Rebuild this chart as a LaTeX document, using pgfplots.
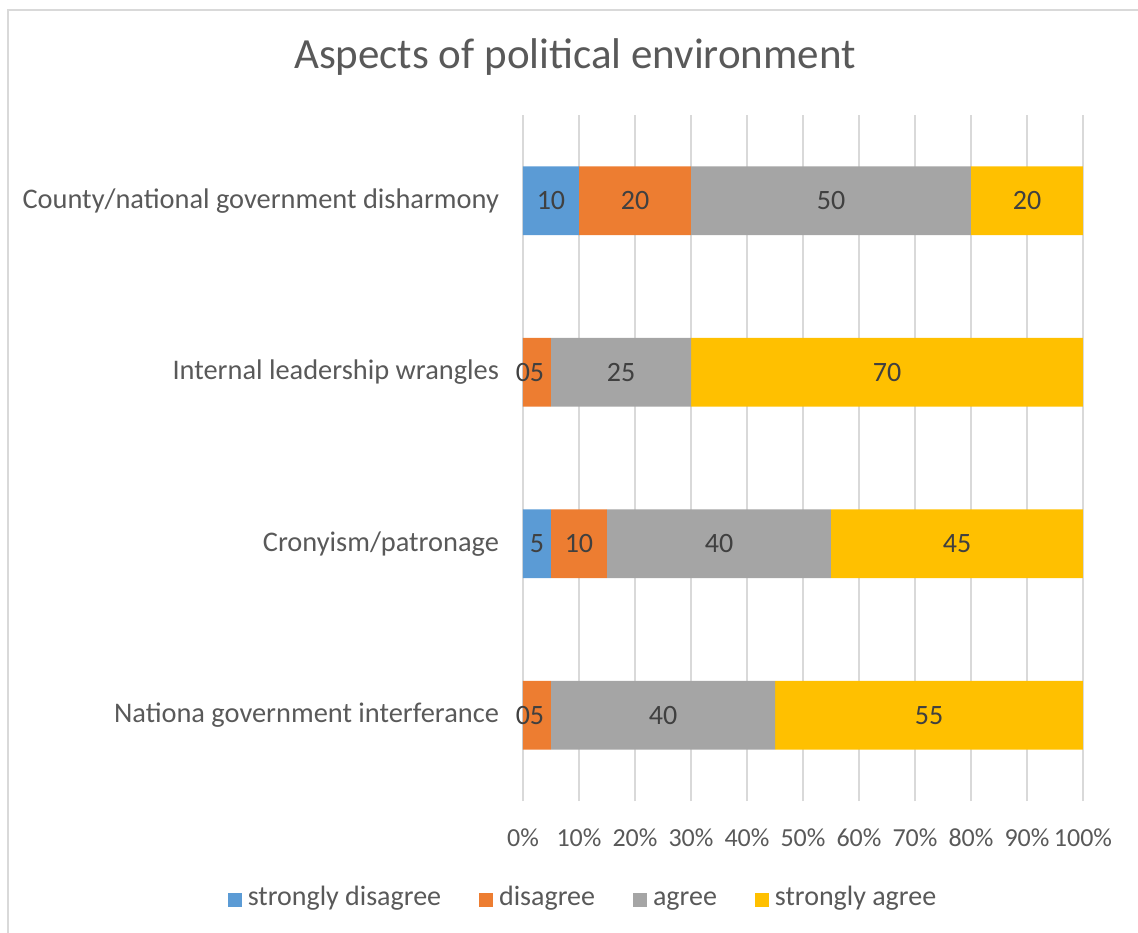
\documentclass[border=0pt]{standalone}
\usepackage{pgfplots}
\pgfplotsset{compat=1.18}
\usepackage{pgfplotstable}
\usepackage{fontspec}
\setmainfont{Carlito}
\definecolor{sdis}{HTML}{5B9BD5}
\definecolor{dis}{HTML}{ED7D31}
\definecolor{agr}{HTML}{A5A5A5}
\definecolor{sagr}{HTML}{FFC000}
\definecolor{txt}{HTML}{595959}
\definecolor{lbl}{HTML}{404040}
\definecolor{grd}{HTML}{D9D9D9}

\pgfplotstableread{
pos v m
0 0.001 0
1 5 5
2 0.001 0
3 10 10
}\tsdis
\pgfplotstableread{
pos v m
0 5 5
1 10 10
2 5 5
3 20 20
}\tdis
\pgfplotstableread{
pos v m
0 40 40
1 40 40
2 25 25
3 50 50
}\tagr
\pgfplotstableread{
pos v m
0 54.999 55
1 45 45
2 69.999 70
3 20 20
}\tsagr

\begin{document}
\begin{tikzpicture}
\path[use as bounding box] (-261.5bp,-66bp) rectangle (307.5bp,400.5bp);
\draw[grd, line width=1bp] (-257.5bp,-66bp) -- (-257.5bp,395.5bp) -- (307.5bp,395.5bp);
\begin{axis}[
  scale only axis,
  width=280bp, height=343bp,
  xbar stacked,
  bar width=0.4,
  xmin=0, xmax=100,
  ymin=-0.5, ymax=3.5,
  xtick={0,10,...,100},
  xticklabel={\pgfmathprintnumber{\tick}\%},
  ytick={0,1,2,3},
  yticklabels={Nationa government interferance,Cronyism/patronage,Internal leadership wrangles,County/national government disharmony},
  axis line style={draw=none},
  major tick length=0pt,
  xmajorgrids,
  grid style={grd, line width=1bp},
  tick label style={text=txt},
  xticklabel style={yshift=-10.5bp, font=\fontsize{13bp}{15bp}\selectfont},
  yticklabel style={xshift=-8.5bp, font=\fontsize{14.2bp}{16bp}\selectfont},
  /pgf/number format/assume math mode=true,
  point meta=explicit,
  nodes near coords={\pgfmathprintnumber{\pgfplotspointmeta}},
  every node near coord/.append style={anchor=center, font=\fontsize{14bp}{16bp}\selectfont, text=lbl},
  legend style={at={(0.1107,-0.1443)}, anchor=center, draw=none, legend columns=-1,
     font=\fontsize{14bp}{16bp}\selectfont, text=txt,
     /tikz/every even column/.append style={column sep=16bp},
     nodes={inner xsep=3bp, text height=1.7ex, text depth=0.45ex, anchor=west}},
  legend image code/.code={\fill[#1] (0bp,-3.5bp) rectangle (7bp,3.5bp);},
]
\addplot[fill=sdis, draw=none] table[x=v, y=pos, meta=m] {\tsdis};
\addplot[fill=dis, draw=none] table[x=v, y=pos, meta=m] {\tdis};
\addplot[fill=agr, draw=none] table[x=v, y=pos, meta=m] {\tagr};
\addplot[fill=sagr, draw=none] table[x=v, y=pos, meta=m] {\tsagr};
\legend{strongly disagree, disagree, agree, strongly agree}
\end{axis}
\node[font=\fontsize{21.5bp}{24bp}\selectfont, text=txt] at (26bp,372bp) {Aspects of political environment};
\end{tikzpicture}
\end{document}
